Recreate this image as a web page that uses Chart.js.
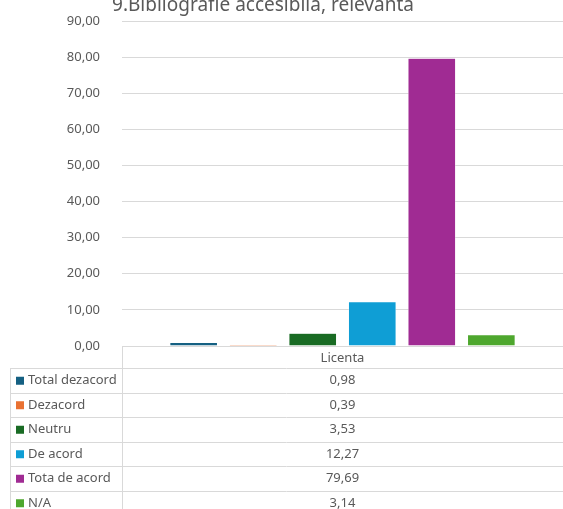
<!DOCTYPE html>
<html>
<head>
<meta charset="utf-8">
<script src="https://cdn.jsdelivr.net/npm/chart.js@4.4.1/dist/chart.umd.min.js"></script>
<style>
  html, body { margin: 0; padding: 0; background: #fff; }
  #wrap { width: 563px; height: 509px; position: relative; }
</style>
</head>
<body>
<div id="wrap"><canvas id="chart" width="563" height="509"></canvas></div>
<script>
// ── data ───────────────────────────────────────────
const TITLE      = '9.Bibliografie accesibilă, relevantă';
const CATEGORIES = ['Licenta'];
const SERIES     = ['Total dezacord', 'Dezacord', 'Neutru', 'De acord', 'Tota de acord', 'N/A'];
const VALUES     = [0.98, 0.39, 3.53, 12.27, 79.69, 3.14];
const COLORS     = ['#156082', '#E97132', '#196B24', '#0F9ED5', '#A02B93', '#4EA72E'];
const Y_TICKS    = { min: 0, max: 90, step: 10 };

const FONT  = '"Noto Sans", "Open Sans", sans-serif';
const GREY  = '#595959';
const LINE  = '#d9d9d9';

const fmt = v => Number(v).toFixed(2).replace('.', ',');

// ── data table + title drawn under the plot ────────
const tablePlugin = {
  id: 'dataTable',
  afterDraw(chart) {
    const ctx  = chart.ctx;
    const area = chart.chartArea;
    const W    = chart.width;
    const H    = chart.height;
    const left = 10;
    const headH = 22;
    const rowH  = 24.5;
    const top   = area.bottom;

    ctx.save();
    // title
    ctx.fillStyle = GREY;
    ctx.font = '19px ' + FONT;
    ctx.textAlign = 'center';
    ctx.textBaseline = 'middle';
    ctx.fillText(TITLE, 263, 6);

    // grid lines of the table
    ctx.strokeStyle = LINE;
    ctx.lineWidth = 1;
    ctx.beginPath();
    ctx.moveTo(area.left + 0.5, top);
    ctx.lineTo(area.left + 0.5, H);
    ctx.moveTo(left + 0.5, top + headH);
    ctx.lineTo(left + 0.5, H);
    for (let i = 0; i <= SERIES.length; i++) {
      const y = Math.round(top + headH + i * rowH) + 0.5;
      ctx.moveTo(left, y);
      ctx.lineTo(W, y);
    }
    ctx.stroke();

    // header
    const cx = (area.left + W) / 2;
    ctx.font = '13px ' + FONT;
    ctx.fillStyle = GREY;
    ctx.textAlign = 'center';
    ctx.fillText(CATEGORIES[0], cx, top + headH / 2 + 1);

    // rows
    SERIES.forEach((name, i) => {
      const yc = top + headH + i * rowH + rowH / 2 + 0.5;
      ctx.fillStyle = COLORS[i];
      ctx.fillRect(left + 6, yc - 4, 8, 8);
      ctx.fillStyle = GREY;
      ctx.textAlign = 'left';
      ctx.fillText(name, left + 18, yc);
      ctx.textAlign = 'center';
      ctx.fillText(fmt(VALUES[i]), cx, yc);
    });
    ctx.restore();
  }
};

new Chart(document.getElementById('chart'), {
  type: 'bar',
  data: {
    labels: CATEGORIES,
    datasets: SERIES.map((name, i) => ({
      label: name,
      data: [VALUES[i]],
      backgroundColor: COLORS[i],
      borderColor: '#ffffff',
      borderWidth: 0.5,
      categoryPercentage: 0.81,
      barPercentage: 0.8,
    })),
  },
  options: {
    responsive: false,
    animation: false,
    layout: { padding: { top: 21, bottom: 163, right: 0, left: 0 } },
    plugins: {
      legend: { display: false },
      title: { display: false },
      tooltip: { enabled: false },
    },
    scales: {
      x: { display: false },
      y: {
        min: Y_TICKS.min,
        max: Y_TICKS.max,
        border: { display: false },
        grid: { color: LINE, drawTicks: false },
        ticks: {
          stepSize: Y_TICKS.step,
          padding: 22,
          color: GREY,
          font: { family: FONT, size: 13 },
          callback: v => fmt(v),
        },
        afterFit: s => { s.width = 122; s.paddingTop = 0; },
      },
    },
  },
  plugins: [tablePlugin],
});
</script>
</body>
</html>
